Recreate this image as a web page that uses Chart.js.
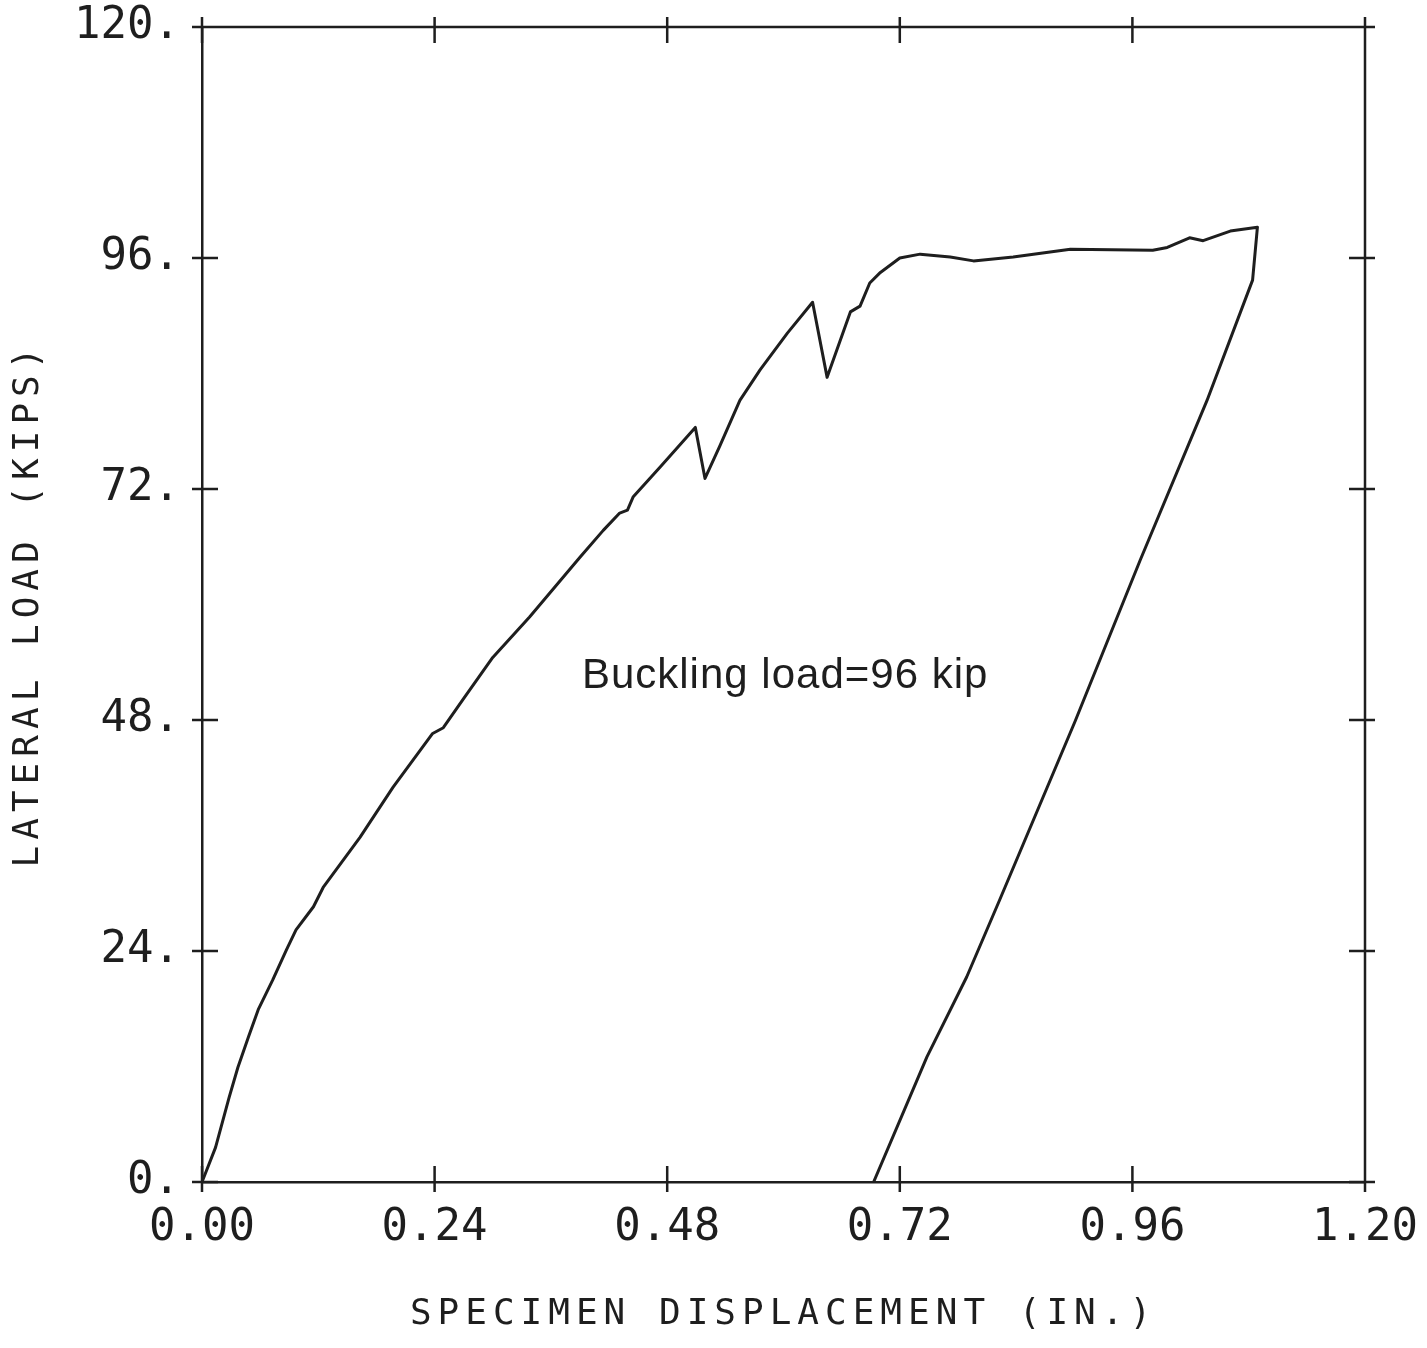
<!DOCTYPE html>
<html>
<head>
<meta charset="utf-8">
<script src="https://cdn.jsdelivr.net/npm/chart.js@4.4.0/dist/chart.umd.min.js"></script>
<style>
  html, body { margin: 0; padding: 0; background: #fff; }
  #wrap { width: 1427px; height: 1348px; }
</style>
</head>
<body>
<div id="wrap"><canvas id="loadChart"></canvas></div>
<script>
// displacement (in.) and lateral load (kips)
const displacement = [
  0, 0.014, 0.028, 0.037, 0.048, 0.058, 0.073, 0.087, 0.097, 0.115,
  0.125, 0.163, 0.197, 0.238, 0.249, 0.269, 0.300, 0.338, 0.390, 0.414,
  0.431, 0.439, 0.445, 0.473, 0.509, 0.519, 0.534, 0.555, 0.576, 0.604,
  0.630, 0.645, 0.669, 0.679, 0.689, 0.700, 0.720, 0.741, 0.772, 0.796,
  0.837, 0.896, 0.981, 0.996, 1.019, 1.033, 1.061, 1.089,
  1.084, 1.037, 0.968, 0.901, 0.823, 0.789, 0.748, 0.693
];
const lateralLoad = [
  0, 3.6, 8.8, 11.9, 15.1, 17.9, 21.0, 24.1, 26.2, 28.6,
  30.6, 35.8, 41.0, 46.6, 47.2, 50.1, 54.5, 58.7, 64.9, 67.7,
  69.5, 69.8, 71.2, 74.3, 78.4, 73.1, 76.4, 81.2, 84.4, 88.2,
  91.4, 83.6, 90.4, 91.0, 93.4, 94.5, 96.0, 96.4, 96.1, 95.7,
  96.1, 96.9, 96.8, 97.1, 98.1, 97.8, 98.8, 99.2,
  93.7, 81.2, 64.6, 47.9, 29.3, 21.3, 13.0, 0
];
const xTicks = [0, 0.24, 0.48, 0.72, 0.96, 1.20];
const yTicks = [0, 24, 48, 72, 96, 120];

const noteText = "Buckling load=96 kip";
const noteAt = { x: 0.392, y: 52.5 };

const ink = "#1e1e1e";
const mono = "'DejaVu Sans Mono', 'Liberation Mono', monospace";

const points = displacement.map((x, i) => ({ x: x, y: lateralLoad[i] }));

// white page, wider letter spacing for the axis titles (drawn before datasets)
const pagePlugin = {
  id: "page",
  beforeDraw(chart) {
    const ctx = chart.ctx;
    ctx.save();
    ctx.fillStyle = "#fff";
    ctx.fillRect(0, 0, chart.width, chart.height);
    ctx.restore();
    ctx.letterSpacing = "6px";
  },
  afterDatasetsDraw(chart) {
    chart.ctx.letterSpacing = "0px";
  }
};

// frame on top/right plus ticks crossing all four sides, and the note
const framePlugin = {
  id: "frame",
  afterDraw(chart) {
    const ctx = chart.ctx;
    const a = chart.chartArea;
    const xs = chart.scales.x;
    const ys = chart.scales.y;
    ctx.save();
    ctx.strokeStyle = ink;
    ctx.lineWidth = 2.5;
    ctx.beginPath();
    ctx.moveTo(a.left, a.top);
    ctx.lineTo(a.right, a.top);
    ctx.lineTo(a.right, a.bottom);
    xTicks.forEach(v => {
      const px = xs.getPixelForValue(v);
      ctx.moveTo(px, a.bottom - 16);
      ctx.lineTo(px, a.bottom + 10);
      ctx.moveTo(px, a.top - 10);
      ctx.lineTo(px, a.top + 16);
    });
    yTicks.forEach(v => {
      const py = ys.getPixelForValue(v);
      ctx.moveTo(a.left - 10, py);
      ctx.lineTo(a.left + 16, py);
      ctx.moveTo(a.right - 16, py);
      ctx.lineTo(a.right + 10, py);
    });
    ctx.stroke();

    ctx.fillStyle = ink;
    ctx.letterSpacing = "1px";
    ctx.font = "42px 'Liberation Sans', Arial, sans-serif";
    ctx.textAlign = "left";
    ctx.textBaseline = "middle";
    ctx.fillText(noteText, xs.getPixelForValue(noteAt.x), ys.getPixelForValue(noteAt.y));
    ctx.restore();
  }
};

new Chart(document.getElementById("loadChart"), {
  type: "scatter",
  data: {
    datasets: [{
      data: points,
      showLine: true,
      borderColor: ink,
      borderWidth: 3,
      pointRadius: 0,
      tension: 0,
      borderJoinStyle: "round",
      fill: false
    }]
  },
  options: {
    responsive: true,
    maintainAspectRatio: false,
    animation: false,
    layout: { padding: { left: 0, top: 27, right: 62, bottom: 0 } },
    plugins: {
      legend: { display: false },
      tooltip: { enabled: false }
    },
    scales: {
      x: {
        type: "linear",
        min: 0,
        max: 1.2,
        afterBuildTicks: s => { s.ticks = xTicks.map(v => ({ value: v })); },
        afterFit: s => { s.height = 166; s.paddingLeft = 0; s.paddingRight = 0; },
        grid: { drawOnChartArea: false, drawTicks: false },
        border: { display: true, color: ink, width: 2.5 },
        ticks: {
          z: 1,
          padding: 20,
          color: ink,
          maxRotation: 0,
          font: { family: mono, size: 44 },
          callback: v => Number(v).toFixed(2)
        },
        title: {
          display: true,
          text: "SPECIMEN DISPLACEMENT (IN.)",
          color: ink,
          padding: { top: 0, bottom: 12 },
          font: { family: mono, size: 36 }
        }
      },
      y: {
        type: "linear",
        min: 0,
        max: 120,
        afterBuildTicks: s => { s.ticks = yTicks.map(v => ({ value: v })); },
        afterFit: s => { s.width = 202; s.paddingTop = 0; s.paddingBottom = 0; },
        grid: { drawOnChartArea: false, drawTicks: false },
        border: { display: true, color: ink, width: 2.5 },
        ticks: {
          z: 1,
          padding: 22,
          color: ink,
          font: { family: mono, size: 44 },
          callback: v => v + "."
        },
        title: {
          display: true,
          text: "LATERAL LOAD (KIPS)",
          color: ink,
          padding: { top: 7, bottom: 0 },
          font: { family: mono, size: 36 }
        }
      }
    }
  },
  plugins: [pagePlugin, framePlugin]
});
</script>
</body>
</html>
